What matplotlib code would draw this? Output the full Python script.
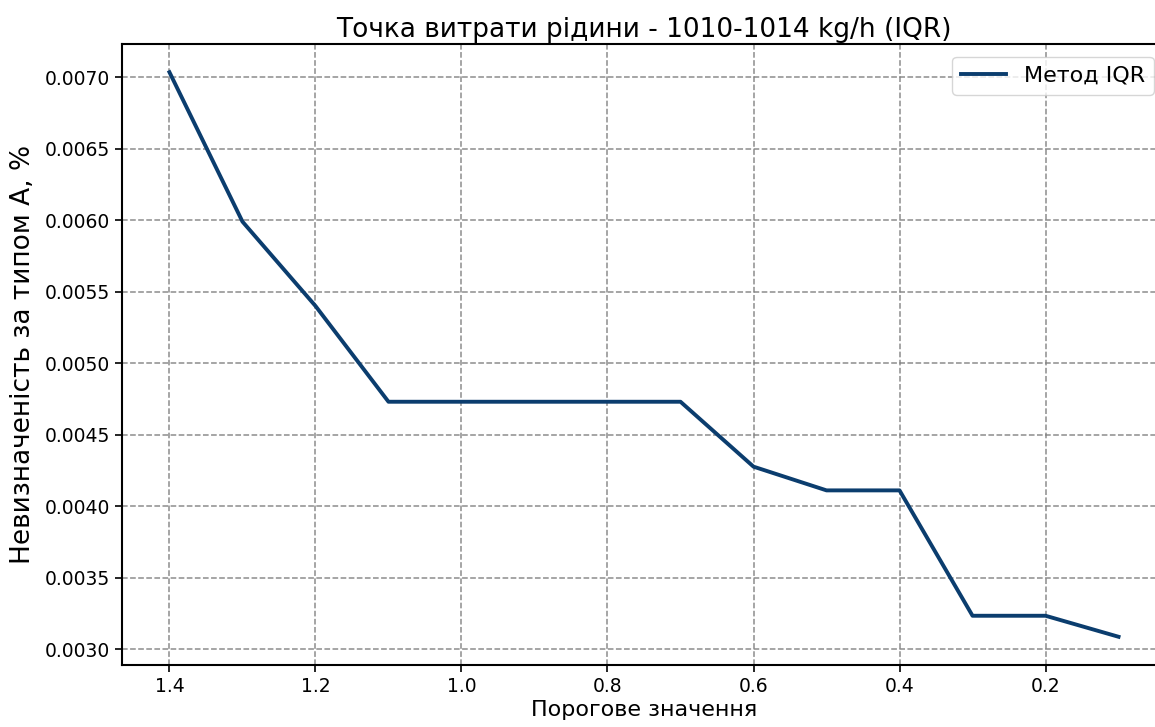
import matplotlib.pyplot as plt

plt.rcParams['font.family'] = ['DejaVu Sans']

# Data
thresholds = [1.4, 1.3, 1.2, 1.1, 1.0, 0.9, 0.8, 0.7, 0.6, 0.5, 0.4, 0.3, 0.2, 0.1]
uncertainty = [0.007035, 0.00599, 0.00540, 0.00473, 0.00473, 0.00473, 0.00473,
               0.00473, 0.004276, 0.00411, 0.00411, 0.003233, 0.003233, 0.003086]

fig = plt.figure(figsize=(11.55, 7.27), dpi=100)
ax = fig.add_axes([122 / 1155, 1 - 665 / 727, 1044 / 1155, 621 / 727])

ax.plot(thresholds, uncertainty, color='#0b3d6e', lw=2.8, label='Метод IQR')
ax.invert_xaxis()

ax.set_title('Точка витрати рідини - 1010-1014 kg/h (IQR)', fontsize=19, pad=5)
ax.set_xlabel('Порогове значення', fontsize=16, labelpad=3)
ax.set_ylabel('Невизначеність за типом А, %', fontsize=19, labelpad=6)
ax.tick_params(labelsize=13.5, width=1.2, length=5)
for s in ax.spines.values():
    s.set_linewidth(1.5)

ax.grid(True, linestyle='--', color='gray', lw=1.1, alpha=0.9)
ax.legend(loc='upper right', prop={'size': 16},
          bbox_to_anchor=(0.9945, 0.99), borderaxespad=0.3)

fig.savefig('out.png', dpi=100)
